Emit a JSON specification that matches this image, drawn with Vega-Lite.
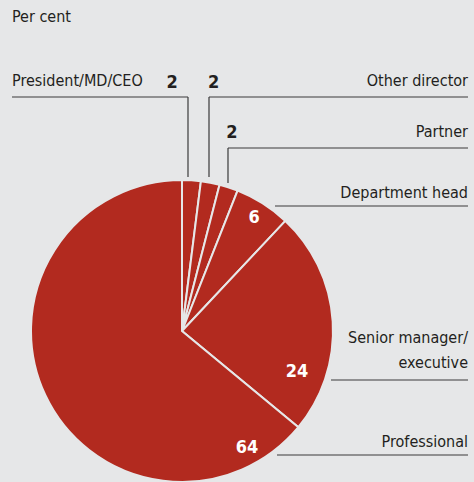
{
  "$schema": "https://vega.github.io/schema/vega-lite/v6.json",
  "autosize": {"type": "none"},
  "width": 364,
  "height": 302,
  "padding": {"left": 0, "top": 180, "right": 110, "bottom": 0},
  "background": "#e6e7e8",
  "config": {"view": {"stroke": null}},
  "datasets": {
    "slices": [
      {"category": "President/MD/CEO", "value": 2, "order": 1},
      {"category": "Other director", "value": 2, "order": 2},
      {"category": "Partner", "value": 2, "order": 3},
      {"category": "Department head", "value": 6, "order": 4},
      {"category": "Senior manager/executive", "value": 24, "order": 5},
      {"category": "Professional", "value": 64, "order": 6}
    ],
    "leaders": [
      {"x": -112.58, "y": 154.97, "x2": 3.97, "y2": 154.97},
      {"x": 3.97, "y": 154.97, "x2": 3.97, "y2": 101.99},
      {"x": 17.88, "y": 101.99, "x2": 17.88, "y2": 154.97},
      {"x": 17.88, "y": 154.97, "x2": 189.4, "y2": 154.97},
      {"x": 30.46, "y": 98.01, "x2": 30.46, "y2": 121.19},
      {"x": 30.46, "y": 121.19, "x2": 189.4, "y2": 121.19},
      {"x": 61.59, "y": 82.78, "x2": 189.4, "y2": 82.78},
      {"x": 98.68, "y": -32.45, "x2": 189.4, "y2": -32.45},
      {"x": 62.91, "y": -82.12, "x2": 189.4, "y2": -82.12}
    ],
    "leftLabels": [
      {"text": "Per cent", "x": -112.58, "y": 204.6},
      {"text": "President/MD/CEO", "x": -112.58, "y": 162.3}
    ],
    "rightLabels": [
      {"text": "Other director", "x": 189.4, "y": 162.3},
      {"text": "Partner", "x": 189.4, "y": 128.5},
      {"text": "Department head", "x": 189.4, "y": 88.1},
      {"text": "Senior manager/", "x": 189.4, "y": -7.9},
      {"text": "executive", "x": 189.4, "y": -24.5},
      {"text": "Professional", "x": 189.4, "y": -76.8}
    ],
    "values": [
      {"text": "2", "x": -6.6, "y": 160.9, "kind": "dark"},
      {"text": "2", "x": 20.9, "y": 160.9, "kind": "dark"},
      {"text": "2", "x": 33.1, "y": 127.8, "kind": "dark"},
      {"text": "6", "x": 47.7, "y": 71.7, "kind": "white"},
      {"text": "24", "x": 76.2, "y": -30.5, "kind": "white"},
      {"text": "64", "x": 43.0, "y": -80.8, "kind": "white"}
    ]
  },
  "layer": [
    {
      "data": {"name": "slices"},
      "mark": {"type": "arc", "fill": "#b22a1f", "stroke": "#e6e7e8", "strokeWidth": 2},
      "encoding": {
        "theta": {"field": "value", "type": "quantitative", "stack": true},
        "order": {"field": "order", "type": "quantitative"}
      }
    },
    {
      "data": {"name": "leaders"},
      "mark": {"type": "rule", "color": "#3a3a3a", "strokeWidth": 1.2},
      "encoding": {
        "x": {"field": "x", "type": "quantitative", "scale": {"domain": [-120.53, 120.53], "nice": false, "zero": false}, "axis": null},
        "y": {"field": "y", "type": "quantitative", "scale": {"domain": [-100, 100], "nice": false, "zero": false}, "axis": null},
        "x2": {"field": "x2"},
        "y2": {"field": "y2"}
      }
    },
    {
      "data": {"name": "leftLabels"},
      "mark": {"type": "text", "font": "DejaVu Sans Condensed, Liberation Sans, sans-serif", "fontSize": 16, "color": "#231f20", "baseline": "alphabetic", "align": "left"},
      "encoding": {
        "x": {"field": "x", "type": "quantitative", "scale": {"domain": [-120.53, 120.53], "nice": false, "zero": false}, "axis": null},
        "y": {"field": "y", "type": "quantitative", "scale": {"domain": [-100, 100], "nice": false, "zero": false}, "axis": null},
        "text": {"field": "text"}
      }
    },
    {
      "data": {"name": "rightLabels"},
      "mark": {"type": "text", "font": "DejaVu Sans Condensed, Liberation Sans, sans-serif", "fontSize": 16, "color": "#231f20", "baseline": "alphabetic", "align": "right"},
      "encoding": {
        "x": {"field": "x", "type": "quantitative", "scale": {"domain": [-120.53, 120.53], "nice": false, "zero": false}, "axis": null},
        "y": {"field": "y", "type": "quantitative", "scale": {"domain": [-100, 100], "nice": false, "zero": false}, "axis": null},
        "text": {"field": "text"}
      }
    },
    {
      "data": {"name": "values"},
      "mark": {"type": "text", "font": "DejaVu Sans Condensed, Liberation Sans, sans-serif", "fontSize": 18, "fontWeight": "bold", "align": "center", "baseline": "alphabetic"},
      "encoding": {
        "x": {"field": "x", "type": "quantitative", "scale": {"domain": [-120.53, 120.53], "nice": false, "zero": false}, "axis": null},
        "y": {"field": "y", "type": "quantitative", "scale": {"domain": [-100, 100], "nice": false, "zero": false}, "axis": null},
        "text": {"field": "text"},
        "color": {"field": "kind", "type": "nominal", "scale": {"domain": ["dark", "white"], "range": ["#231f20", "#ffffff"]}, "legend": null}
      }
    }
  ]
}
